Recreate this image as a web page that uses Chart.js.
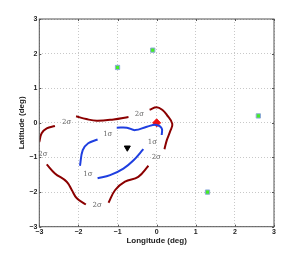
<!DOCTYPE html>
<html>
<head>
<script src="https://cdn.jsdelivr.net/npm/chart.js@4"></script>
<style>
  body { margin: 0; background: #fff; }
  canvas { display: block; }
</style>
</head>
<body>
<canvas id="mapChart" width="302" height="255"></canvas>
<script>
// tick values
const tickValues = [-3, -2, -1, 0, 1, 2, 3];

// 2 sigma contour pieces (lon, lat)
const sig2A = [[-2.06, 0.19], [-1.8, 0.11], [-1.53, 0.06], [-1.1, 0.1], [-0.72, 0.17]];
const sig2B = [[-0.18, 0.38], [0.0, 0.45], [0.15, 0.37], [0.26, 0.23], [0.40, -0.03], [0.34, -0.26], [0.26, -0.50], [0.20, -0.76]];
const sig2C = [[-2.6, -0.09], [-2.81, -0.16], [-2.94, -0.30], [-3.0, -0.55]];
const sig2D = [[-2.81, -1.2], [-2.6, -1.46], [-2.30, -1.70], [-2.17, -1.94], [-2.04, -2.18], [-1.81, -2.36]];
const sig2E = [[-1.23, -2.31], [-1.06, -1.94], [-0.81, -1.70], [-0.47, -1.56], [-0.21, -1.24]];

// 1 sigma contour pieces
const sig1A = [[-1.02, -0.14], [-0.76, -0.14], [-0.55, -0.21], [-0.25, -0.11], [0.0, -0.06], [0.13, -0.16], [0.13, -0.35]];
const sig1B = [[-1.51, -0.48], [-1.75, -0.59], [-1.89, -0.79], [-1.96, -1.24]];
const sig1C = [[-1.51, -1.6], [-1.19, -1.51], [-0.85, -1.32], [-0.59, -1.08], [-0.34, -0.76]];

// contour labels
const labelText = ["2σ", "2σ", "2σ", "2σ", "2σ", "1σ", "1σ", "1σ"];
const labelLon = [-2.3, -0.44, -2.91, -0.01, -1.52, -1.25, -0.11, -1.76];
const labelLat = [0.03, 0.26, -0.9, -1.0, -2.37, -0.33, -0.57, -1.48];

// markers
const stationLon = [-1.0, -0.1, 2.6, 1.3];
const stationLat = [1.6, 2.1, 0.2, -2.0];
const trueLon = [0];
const trueLat = [0];
const estLon = [-0.75];
const estLat = [-0.72];

function pts(arr) {
    return arr.map(p => ({ x: p[0], y: p[1] }));
}
function zipPts(xs, ys) {
    return xs.map((x, i) => ({ x: x, y: ys[i] }));
}

function contour(arr, color) {
    return {
        data: pts(arr),
        showLine: true,
        borderColor: color,
        borderWidth: 2,
        pointRadius: 0,
        tension: 0.4,
        fill: false,
    };
}

const contourLabels = {
    id: "contourLabels",
    afterDatasetsDraw(chart) {
        const ctx = chart.ctx;
        const xs = chart.scales.x;
        const ys = chart.scales.y;
        ctx.save();
        ctx.fillStyle = "#666";
        ctx.font = "7px 'DejaVu Serif'";
        ctx.textAlign = "center";
        ctx.textBaseline = "middle";
        labelText.forEach((t, i) => {
            ctx.fillText(t, xs.getPixelForValue(labelLon[i]), ys.getPixelForValue(labelLat[i]));
        });
        ctx.restore();
    },
};

const frameBox = {
    id: "frameBox",
    afterDraw(chart) {
        const a = chart.chartArea;
        const ctx = chart.ctx;
        const xs = chart.scales.x;
        const ys = chart.scales.y;
        ctx.save();
        ctx.strokeStyle = "#555";
        ctx.lineWidth = 1;
        ctx.strokeRect(a.left, a.top, a.right - a.left, a.bottom - a.top);
        // inward ticks
        tickValues.forEach(v => {
            const px = Math.round(xs.getPixelForValue(v)) + 0.5;
            const py = Math.round(ys.getPixelForValue(v)) + 0.5;
            ctx.beginPath();
            ctx.moveTo(px, a.bottom); ctx.lineTo(px, a.bottom - 2);
            ctx.moveTo(px, a.top); ctx.lineTo(px, a.top + 2);
            ctx.moveTo(a.left, py); ctx.lineTo(a.left + 2, py);
            ctx.moveTo(a.right, py); ctx.lineTo(a.right - 2, py);
            ctx.stroke();
        });
        ctx.restore();
    },
};

const tickFont = { family: "Liberation Sans", size: 7, weight: "bold" };
const titleFont = { family: "Liberation Sans", size: 8, weight: "bold" };

new Chart(document.getElementById("mapChart").getContext("2d"), {
    type: "scatter",
    data: {
        datasets: [
            contour(sig2A, "#8b0000"),
            contour(sig2B, "#8b0000"),
            contour(sig2C, "#8b0000"),
            contour(sig2D, "#8b0000"),
            contour(sig2E, "#8b0000"),
            contour(sig1A, "#1f3fe0"),
            contour(sig1B, "#1f3fe0"),
            contour(sig1C, "#1f3fe0"),
            {
                data: zipPts(stationLon, stationLat),
                pointStyle: "rect",
                pointRadius: 3,
                backgroundColor: "#44ee22",
                borderColor: "#8aa8d8",
                borderWidth: 1,
            },
            {
                data: zipPts(trueLon, trueLat),
                pointStyle: "rectRot",
                pointRadius: 4,
                backgroundColor: "#ee1111",
                borderColor: "#ee1111",
                borderWidth: 1,
            },
            {
                data: zipPts(estLon, estLat),
                pointStyle: "triangle",
                rotation: 180,
                pointRadius: 3.5,
                backgroundColor: "#000",
                borderColor: "#000",
                borderWidth: 1,
            },
        ],
    },
    options: {
        responsive: false,
        animation: false,
        layout: { padding: { left: 17, top: 19, right: 28, bottom: 9 } },
        plugins: {
            legend: { display: false },
            tooltip: { enabled: false },
        },
        scales: {
            x: {
                type: "linear",
                min: -3,
                max: 3,
                afterBuildTicks: s => { s.ticks = tickValues.map(v => ({ value: v })); },
                afterFit: s => { s.height = 19.3; },
                ticks: {
                    color: "#222",
                    font: tickFont,
                    padding: 1,
                    callback: v => String(v).replace("-", "\u2212"),
                },
                grid: { color: "#c8c8c8", drawTicks: false },
                border: { display: false, dash: [1, 2] },
                title: { display: true, text: "Longitude (deg)", color: "#222", font: titleFont, padding: { top: 0, bottom: 0 } },
            },
            y: {
                type: "linear",
                min: -3,
                max: 3,
                afterBuildTicks: s => { s.ticks = tickValues.map(v => ({ value: v })); },
                afterFit: s => { s.width = 22.3; },
                ticks: {
                    color: "#222",
                    font: tickFont,
                    padding: 2,
                    callback: v => String(v).replace("-", "\u2212"),
                },
                grid: { color: "#c8c8c8", drawTicks: false },
                border: { display: false, dash: [1, 2] },
                title: { display: true, text: "Latitude (deg)", color: "#222", font: titleFont, padding: { top: 0, bottom: 0 } },
            },
        },
    },
    plugins: [contourLabels, frameBox],
});
</script>
</body>
</html>
